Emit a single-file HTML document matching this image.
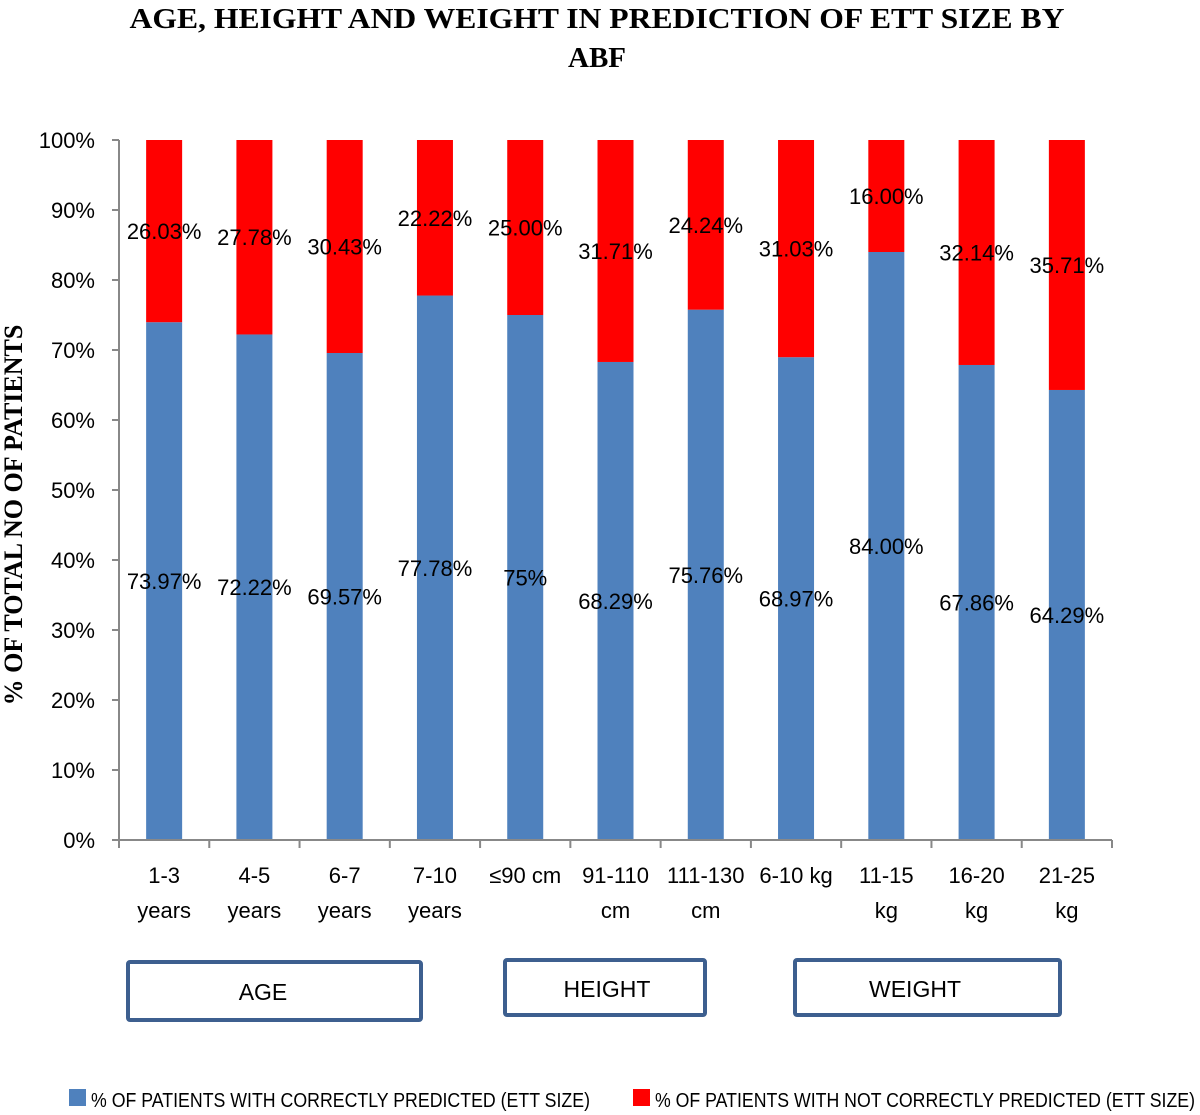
<!DOCTYPE html>
<html><head><meta charset="utf-8"><style>
body{margin:0;background:#fff;}
svg{display:block;}
</style></head><body>
<svg id="chart" width="1200" height="1115" xmlns="http://www.w3.org/2000/svg">
<text x="597" y="28" text-anchor="middle" font-family="Liberation Serif, serif" font-weight="bold" font-size="29" textLength="935" lengthAdjust="spacingAndGlyphs">AGE, HEIGHT AND WEIGHT IN PREDICTION OF ETT SIZE BY</text>
<text x="597" y="67" text-anchor="middle" font-family="Liberation Serif, serif" font-weight="bold" font-size="29">ABF</text>
<text transform="translate(22,515) rotate(-90)" text-anchor="middle" font-family="Liberation Serif, serif" font-weight="bold" font-size="26">% OF TOTAL NO OF PATIENTS</text>
<g id="plot"></g>
<rect x="128" y="962" width="293" height="58" fill="#fff" stroke="#3d5f8f" stroke-width="4" rx="2"/>
<text x="263" y="1000" text-anchor="middle" font-family="Liberation Sans, sans-serif" font-size="23">AGE</text>
<rect x="505" y="960" width="200" height="55" fill="#fff" stroke="#3d5f8f" stroke-width="4" rx="2"/>
<text x="607" y="997" text-anchor="middle" font-family="Liberation Sans, sans-serif" font-size="23">HEIGHT</text>
<rect x="795" y="960" width="265" height="55" fill="#fff" stroke="#3d5f8f" stroke-width="4" rx="2"/>
<text x="915" y="997" text-anchor="middle" font-family="Liberation Sans, sans-serif" font-size="23">WEIGHT</text>
<g>
<rect x="69" y="1089" width="17" height="17" fill="#4f81bd"/>
<text x="91" y="1107" font-family="Liberation Sans, sans-serif" font-size="20" textLength="499" lengthAdjust="spacingAndGlyphs">% OF PATIENTS WITH CORRECTLY PREDICTED (ETT SIZE)</text>
<rect x="633" y="1089" width="17" height="17" fill="#ff0000"/>
<text x="655" y="1107" font-family="Liberation Sans, sans-serif" font-size="20" textLength="540" lengthAdjust="spacingAndGlyphs">% OF PATIENTS WITH NOT CORRECTLY PREDICTED (ETT SIZE)</text>
</g>
</svg>
<script>
const categories1 = ["1-3","4-5","6-7","7-10","≤90 cm","91-110","111-130","6-10 kg","11-15","16-20","21-25"];
const categories2 = ["years","years","years","years","","cm","cm","","kg","kg","kg"];
const correctValues = [73.97,72.22,69.57,77.78,75,68.29,75.76,68.97,84.00,67.86,64.29];
const notCorrectValues = [26.03,27.78,30.43,22.22,25.00,31.71,24.24,31.03,16.00,32.14,35.71];
const correctLabels = ["73.97%","72.22%","69.57%","77.78%","75%","68.29%","75.76%","68.97%","84.00%","67.86%","64.29%"];
const notCorrectLabels = ["26.03%","27.78%","30.43%","22.22%","25.00%","31.71%","24.24%","31.03%","16.00%","32.14%","35.71%"];
const yTicks = [0,10,20,30,40,50,60,70,80,90,100];

const NS="http://www.w3.org/2000/svg";
const g=document.getElementById('plot');
const X0=119, X1=1112, Y0=840, Y1=140;
const band=(X1-X0)/categories1.length;
const y=v=>Y0-(v/100)*(Y0-Y1);
const xc=i=>X0+band*(i+0.5);
function mk(tag,attrs){const e=document.createElementNS(NS,tag);for(const k in attrs)e.setAttribute(k,attrs[k]);g.appendChild(e);return e;}
const F="Liberation Sans, sans-serif";
let ax=mk('line',{x1:X0,y1:Y1,x2:X0,y2:Y0,stroke:'#888','stroke-width':2});


yTicks.forEach(t=>{
  const tk=mk('line',{x1:X0-7,y1:y(t),x2:X0,y2:y(t),stroke:'#888','stroke-width':2});
  
  
  const tl=mk('text',{x:X0-24,y:y(t)+8,'text-anchor':'end','font-family':F,'font-size':22});
  tl.textContent=t+'%';
  
  
});
const bw=36;
categories1.forEach((c,i)=>{
  const cx=xc(i);
  const b=mk('rect',{x:cx-bw/2,y:y(correctValues[i]),width:bw,height:Y0-y(correctValues[i]),fill:'#4f81bd'});
  
  
  const top=correctValues[i]+notCorrectValues[i];
  const r=mk('rect',{x:cx-bw/2,y:y(top),width:bw,height:y(correctValues[i])-y(top),fill:'#ff0000'});
  
  
  const l1=mk('text',{x:cx,y:(Y0+y(correctValues[i]))/2+8,'text-anchor':'middle','font-family':F,'font-size':22});
  l1.textContent=correctLabels[i];
  
  
  const l2=mk('text',{x:cx,y:(y(correctValues[i])+y(top))/2+8,'text-anchor':'middle','font-family':F,'font-size':22});
  l2.textContent=notCorrectLabels[i];
  
  
  const c1=mk('text',{x:cx,y:883,'text-anchor':'middle','font-family':F,'font-size':22});
  c1.textContent=c;
  
  
  if(categories2[i]){
    const c2=mk('text',{x:cx,y:918,'text-anchor':'middle','font-family':F,'font-size':22});
    c2.textContent=categories2[i];
    
    
  }
});
for(let i=0;i<=categories1.length;i++){
  const tk=mk('line',{x1:X0+band*i,y1:Y0,x2:X0+band*i,y2:Y0+8,stroke:'#888','stroke-width':2});
  
  
}
let xa=mk('line',{x1:X0,y1:Y0,x2:X1,y2:Y0,stroke:'#888','stroke-width':2});


</script>
</body></html>
